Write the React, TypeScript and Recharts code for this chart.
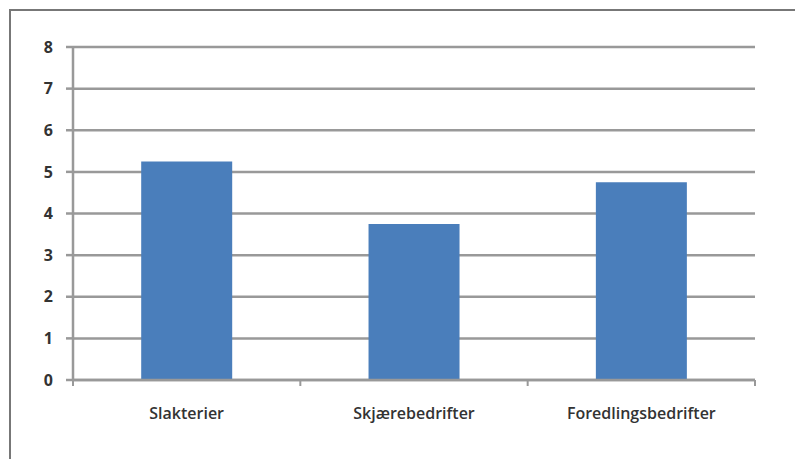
import React from "react";
import { BarChart, Bar, XAxis, YAxis, CartesianGrid } from "recharts";

const categories = ["Slakterier", "Skjærebedrifter", "Foredlingsbedrifter"];
const values = [5.25, 3.75, 4.75];
const yTicks = [0, 1, 2, 3, 4, 5, 6, 7, 8];

const data = categories.map((name, i) => ({ name, value: values[i] }));

const GRID = "#999999";
const FONT = "'Open Sans', 'Liberation Sans', sans-serif";

const XTick = (props: any) => {
  const { x, y, payload, index, visibleTicksCount } = props;
  const half = payload.offset || 0;
  const isLast = index === (visibleTicksCount ?? categories.length) - 1;
  return (
    <g>
      <line x1={x - half} x2={x - half} y1={y - 8} y2={y - 2} stroke={GRID} strokeWidth={2} />
      {isLast && (
        <line x1={x + half} x2={x + half} y1={y - 8} y2={y - 2} stroke={GRID} strokeWidth={2} />
      )}
      <text
        x={x}
        y={y + 31}
        textAnchor="middle"
        fill="#333"
        fontSize={16}
        fontWeight={600}
        fontFamily={FONT}
      >
        {payload.value}
      </text>
    </g>
  );
};

export default function App() {
  return (
    <div style={{ position: "absolute", left: 0, top: 0, width: 795, height: 459, background: "#fff" }}>
      <div
        style={{
          position: "absolute",
          left: 9,
          top: 9,
          width: 786,
          height: 450,
          borderTop: "2px solid #777",
          borderLeft: "2px solid #777",
          boxSizing: "border-box",
        }}
      />
      <div style={{ position: "absolute", left: 0, top: 0 }}>
        <BarChart
          width={795}
          height={459}
          data={data}
          margin={{ top: 47, right: 40, bottom: 49, left: 13 }}
          barCategoryGap="30%"
        >
          <CartesianGrid vertical={false} stroke={GRID} strokeWidth={2.5} />
          <XAxis
            dataKey="name"
            axisLine={{ stroke: GRID, strokeWidth: 2.5 }}
            tickLine={false}
            tick={<XTick />}
            height={30}
            interval={0}
          />
          <YAxis
            domain={[0, 8]}
            ticks={yTicks}
            interval={0}
            width={60}
            axisLine={{ stroke: GRID, strokeWidth: 2.5 }}
            tickLine={{ stroke: GRID, strokeWidth: 2.5 }}
            tickSize={7}
            tickMargin={13}
            tick={{ fill: "#333", fontSize: 16, fontFamily: FONT, fontWeight: 700 }}
          />
          <Bar dataKey="value" fill="#4a7ebb" isAnimationActive={false} />
        </BarChart>
      </div>
    </div>
  );
}
